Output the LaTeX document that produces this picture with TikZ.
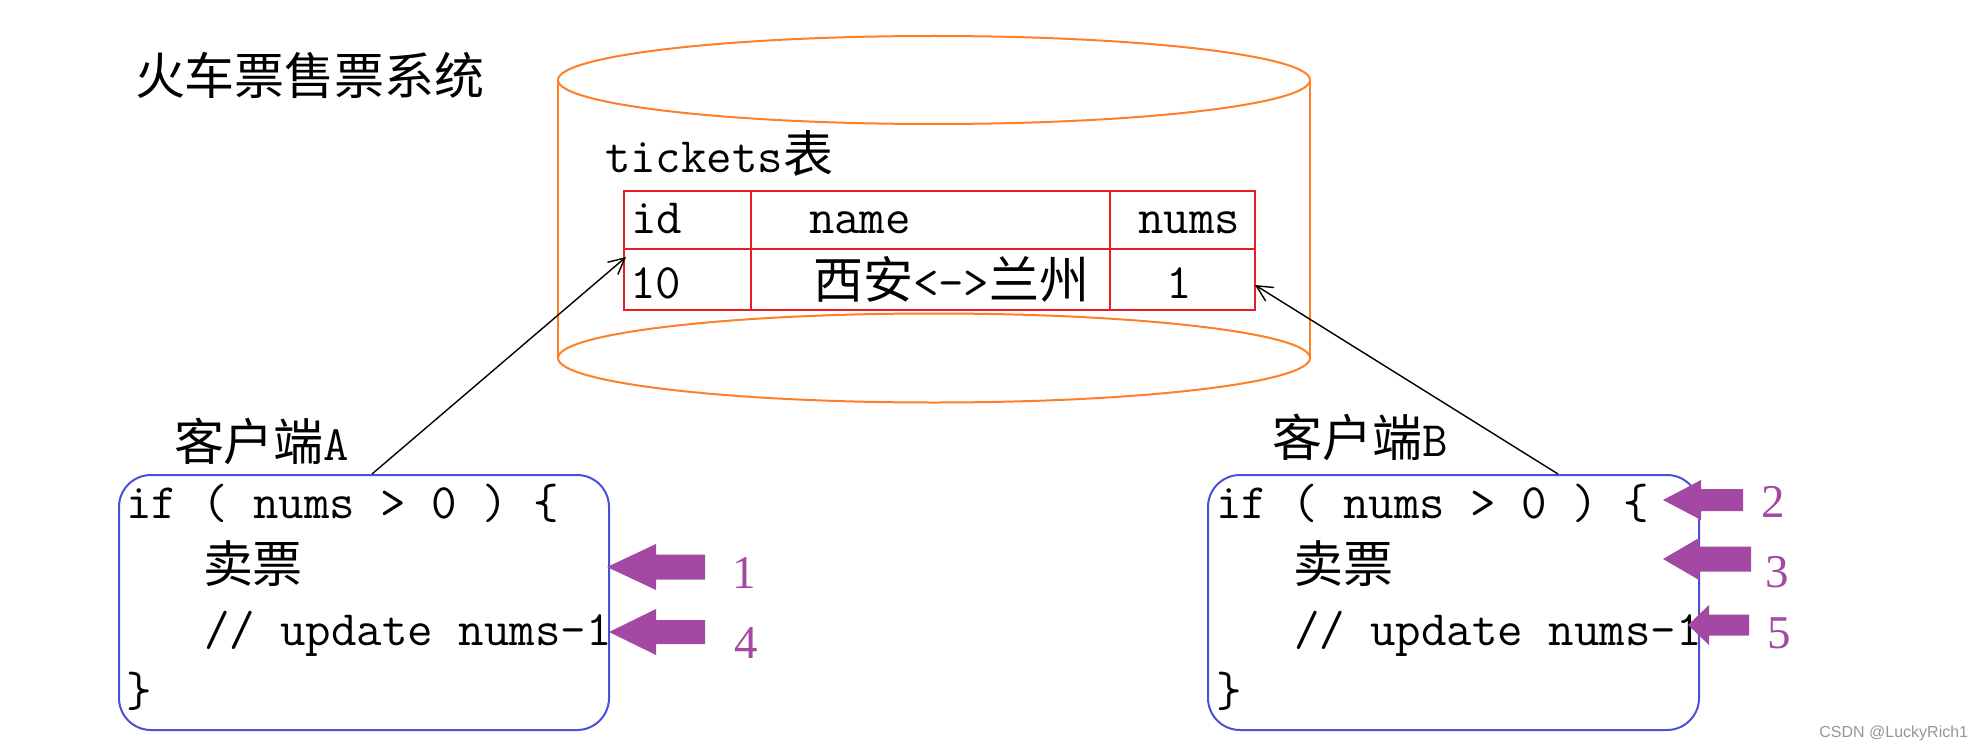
\documentclass[tikz,border=0pt]{standalone}
\usepackage{fontspec}
\usetikzlibrary{calc,arrows.meta}
\newfontfamily\cjk[Scale=1.01]{Noto Sans CJK SC}
\newfontfamily\numfont{Liberation Serif}
\newfontfamily\wmfont{Liberation Sans}
\definecolor{cylorange}{HTML}{FF7F27}
\definecolor{tabred}{HTML}{ED1C24}
\definecolor{boxblue}{HTML}{4B50D6}
\definecolor{ppurple}{HTML}{A349A4}
\definecolor{wmgray}{RGB}{150,150,150}
\newcommand{\parrow}[6]{%
  \fill[ppurple] (#1,#2) -- (#3,#2-#4) -- (#3,#2-#5) -- (#6,#2-#5) -- (#6,#2+#5) -- (#3,#2+#5) -- (#3,#2+#4) -- cycle;}
\tikzset{
  txt/.style={inner sep=0pt, outer sep=0pt, anchor=base west, font=\fontsize{24.75pt}{29pt}\selectfont\ttfamily},
  cell/.style={draw=tabred, line width=1pt, rectangle, inner sep=0pt},
  codebox/.style={draw=boxblue, line width=1pt, rectangle, rounded corners=16pt, inner sep=0pt, minimum height=127.5pt},
  conn/.style={draw=black, line width=0.7pt, -{Straight Barb[length=8pt,width=8pt]}},
  numlabel/.style={inner sep=0pt, anchor=base, text=ppurple, font=\fontsize{23.5pt}{28pt}\selectfont\numfont},
  cyl/.style={draw=cylorange, line width=1pt}
}
\begin{document}
\begin{tikzpicture}[x=0.5pt, y=-0.5pt]
\useasboundingbox (0,0) rectangle (1974,749);
% title
\node[txt] (title) at (135,94.5) {\cjk 火车票售票系统};
% cylinder
\draw[cyl] (558,80) -- (558,358);
\draw[cyl] (1310,80) -- (1310,358);
\draw[cyl] (934,80) ellipse [x radius=376, y radius=44];
\draw[cyl] (934,358) ellipse [x radius=376, y radius=44.5];
% table label
\node[txt] (tlabel) at (605,172) {tickets{\cjk 表}};
% table cells
\node[cell, minimum width=63.5pt, minimum height=29pt] (cid) at (687.5,220) {};
\node[cell, minimum width=179.5pt, minimum height=29pt] (cname) at (930.5,220) {};
\node[cell, minimum width=72.5pt, minimum height=29pt] (cnums) at (1182.5,220) {};
\node[cell, minimum width=63.5pt, minimum height=30.5pt] (c10) at (687.5,279.5) {};
\node[cell, minimum width=179.5pt, minimum height=30.5pt] (croute) at (930.5,279.5) {};
\node[cell, minimum width=72.5pt, minimum height=30.5pt] (c1) at (1182.5,279.5) {};
\node[txt] (tid) at (631,233) {id};
\node[txt] (tname) at (809,233) {name};
\node[txt] (tnums) at (1138,233) {nums};
\node[txt] (t10) at (630,298) {10};
\node[txt] (troute) at (813,298) {{\cjk 西安}<->{\cjk 兰州}};
\node[txt] (t1) at (1166,298) {1};
% client labels
\node[txt] (labA) at (174,460) {{\cjk 客户端}A};
\node[txt] (labB) at (1272,456) {{\cjk 客户端}B};
% code boxes
\node[codebox, minimum width=245pt] (boxA) at (364,602.5) {};
\node[codebox, minimum width=245.5pt] (boxB) at (1453.5,602.5) {};
% code A
\node[txt] (a1) at (126,518) {if ( nums > 0 ) \{};
\node[txt] (a2) at (203,582) {\cjk 卖票};
\node[txt] (a3) at (204,645) {// update nums-1};
\node[txt] (a4) at (126,706) {\}};
% code B
\node[txt] (b1) at (1216,518) {if ( nums > 0 ) \{};
\node[txt] (b2) at (1293,582) {\cjk 卖票};
\node[txt] (b3) at (1294,645) {// update nums-1};
\node[txt] (b4) at (1216,706) {\}};
% connectors
\draw[conn] ($(boxA.north)+(8,0)$) -- ($(c10.north west)+(3,9)$);
\draw[conn] ($(boxB.north)+(104.5,0)$) -- ($(c1.east)+(-1,5.5)$);
% purple step arrows
\parrow{607}{567}{656}{23}{12.5}{705}
\parrow{609}{632}{656}{23}{12}{705}
\parrow{1663}{500}{1701}{20}{11}{1743}
\parrow{1663}{559}{1699}{21}{12.5}{1751}
\parrow{1688}{625}{1709}{20}{10.5}{1749}
\node[numlabel] (n1) at (744,588) {1};
\node[numlabel] (n4) at (746,658) {4};
\node[numlabel] (n2) at (1773,517) {2};
\node[numlabel] (n3) at (1777,587) {3};
\node[numlabel] (n5) at (1779,648) {5};
% watermark
\node[inner sep=0pt, anchor=base west, text=wmgray, font=\fontsize{8pt}{10pt}\selectfont\wmfont] (wm) at (1819,737) {CSDN @LuckyRich1};
\end{tikzpicture}
\end{document}
